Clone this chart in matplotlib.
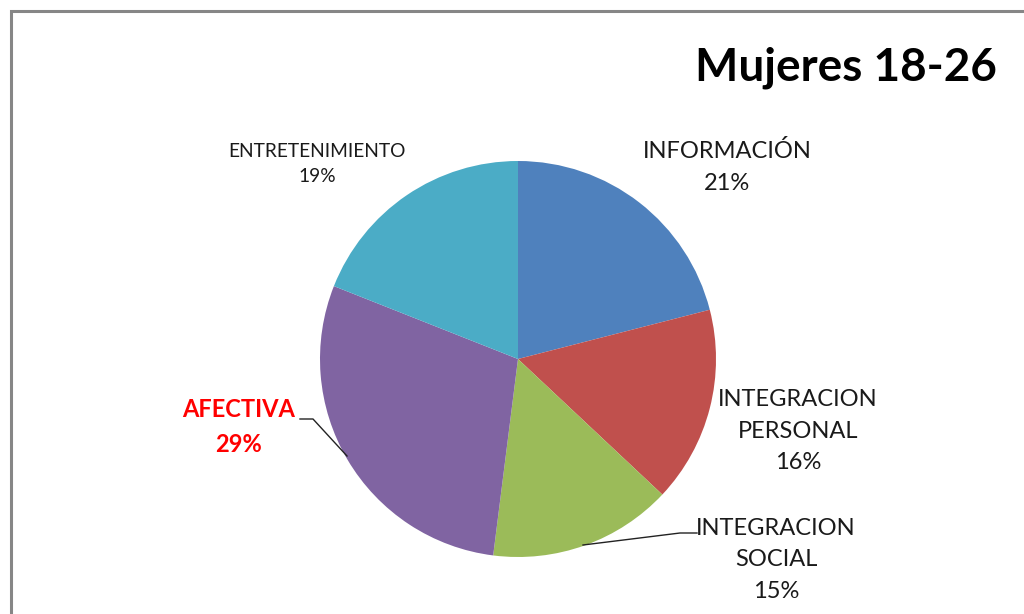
import matplotlib

matplotlib.use("Agg")
import matplotlib.pyplot as plt
from matplotlib.patches import Rectangle

W, H = 1024, 614

categories = ["INFORMACIÓN", "INTEGRACION\nPERSONAL", "INTEGRACION\nSOCIAL",
              "AFECTIVA", "ENTRETENIMIENTO"]
values = [21, 16, 15, 29, 19]
colors = ["#4F81BD", "#C0504D", "#9BBB59", "#8064A2", "#4BACC6"]

# label layout (pixel positions from the top-left corner)
label_pos = [(727, 167), (798, 431), (776, 560), (239, 427), (317, 164)]
label_size = [17, 17, 17, 17, 13.8]
label_color = ["#1a1a1a", "#1a1a1a", "#1a1a1a", "#FF0000", "#1a1a1a"]
label_weight = ["normal", "normal", "normal", "bold", "normal"]
leaders = {2: [(583, 545), (680, 533), (697, 533)],
           3: [(300, 419), (313, 419), (347, 456)]}

FONT = ["Lato", "DejaVu Sans"]


def fy(y):
    return H - y


fig = plt.figure(figsize=(W / 100, H / 100), dpi=100)
ax = fig.add_axes([0, 0, 1, 1])

# chart frame, cut off at the right and bottom
ax.add_patch(Rectangle((11, fy(H + 20)), W + 20, H + 20 - 11, fill=False,
                       edgecolor="#868686", lw=2.2))

ax.pie(values, colors=colors, startangle=90, counterclock=False,
       center=(518, fy(359)), radius=198, frame=True,
       wedgeprops={"linewidth": 0})
ax.set_xlim(0, W)
ax.set_ylim(0, H)
ax.set_aspect("equal")
ax.axis("off")

for i, (cat, v) in enumerate(zip(categories, values)):
    x, y = label_pos[i]
    ax.text(x, fy(y), f"{cat}\n{v}%", ha="center", va="center",
            fontsize=label_size[i], color=label_color[i],
            fontweight=label_weight[i], family=FONT, linespacing=1.6)

for pts in leaders.values():
    xs = [p[0] for p in pts]
    ys = [fy(p[1]) for p in pts]
    ax.plot(xs, ys, color="#222222", lw=1)

ax.text(846, fy(68), "Mujeres 18-26", ha="center", va="center",
        fontsize=33, fontweight="bold", family=FONT, color="#000000")

fig.savefig("out.png", dpi=100)
